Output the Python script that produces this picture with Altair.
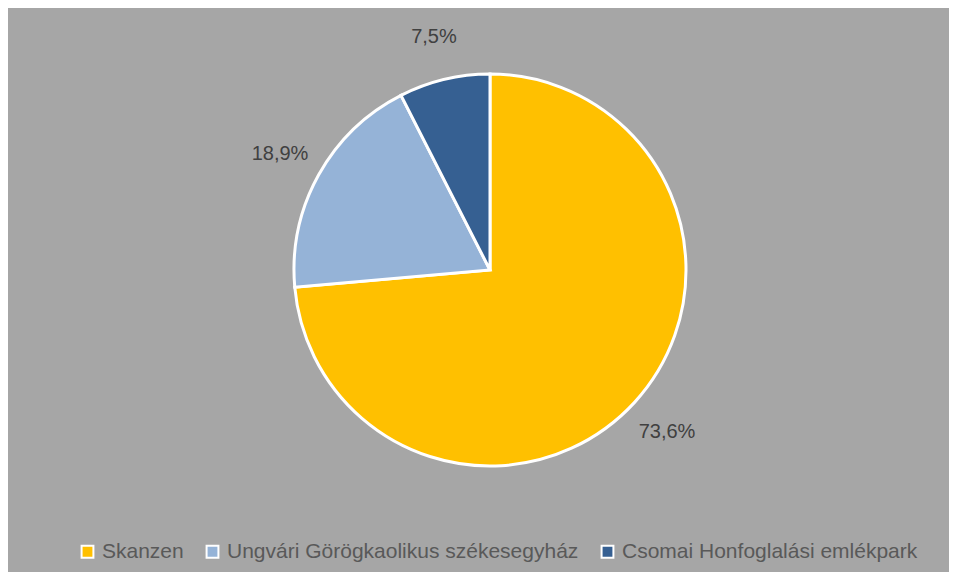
import altair as alt
import pandas as pd

categories = ["Skanzen", "Ungvári Görögkaolikus székesegyház", "Csomai Honfoglalási emlékpark"]
values = [73.6, 18.9, 7.5]
labels = ["73,6%", "18,9%", "7,5%"]
colors = ["#FFC000", "#95B3D7", "#366092"]

df = pd.DataFrame({"cat": categories, "val": values, "lab": labels, "order": [0, 1, 2]})

base = alt.Chart(df).encode(
    theta=alt.Theta("val:Q", stack=True),
    order=alt.Order("order:Q"),
)

pie = base.mark_arc(outerRadius=196, stroke="white", strokeWidth=3).encode(
    color=alt.Color(
        "cat:N",
        sort=categories,
        scale=alt.Scale(domain=categories, range=colors),
        legend=alt.Legend(
            title=None,
            orient="none",
            legendX=46,
            legendY=533,
            direction="horizontal",
            symbolType="square",
            symbolSize=140,
            symbolStrokeColor="white",
            symbolStrokeWidth=2,
            labelFontSize=21,
            labelColor="#595959",
            labelFont="Liberation Sans",
            labelLimit=0,
            labelOffset=4,
            columnPadding=18,
            symbolOffset=0,
            padding=0,
        ),
    )
)

text = base.mark_text(radius=240, fontSize=20, color="#404040", font="Liberation Sans").encode(
    text="lab:N"
)

chart = (
    (pie + text)
    .properties(
        width=918,
        height=524,
        padding={"left": 23, "right": 0, "top": 0, "bottom": 10},
        background="#A6A6A6",
    )
    .configure_view(stroke=None)
)

chart.save("out.html", embed_options={"renderer": "svg", "actions": False})
